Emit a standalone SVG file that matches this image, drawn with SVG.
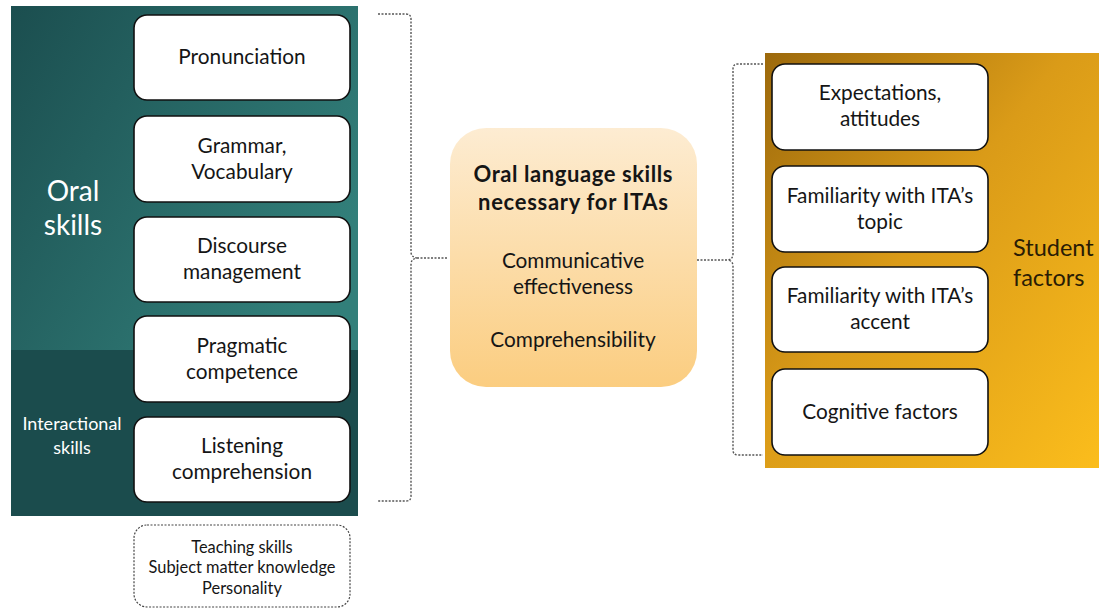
<svg xmlns="http://www.w3.org/2000/svg" width="1099" height="609" viewBox="0 0 1099 609">
<defs>
<linearGradient id="gTeal" x1="0" y1="0" x2="1" y2="0.6">
<stop offset="0" stop-color="#1b4e4f"/>
<stop offset="1" stop-color="#327f7a"/>
</linearGradient>
<linearGradient id="gGold" x1="0" y1="0" x2="1" y2="1">
<stop offset="0" stop-color="#9c690c"/>
<stop offset="0.45" stop-color="#da9b18"/>
<stop offset="1" stop-color="#fbbd1c"/>
</linearGradient>
<linearGradient id="gCenter" x1="0" y1="0" x2="0" y2="1">
<stop offset="0" stop-color="#fdecd2"/>
<stop offset="1" stop-color="#fbcd80"/>
</linearGradient>
<style>
.box{fill:#ffffff;stroke:#111;stroke-width:1.6}
.t{font-family:Lato,"Liberation Sans",sans-serif;font-size:20.8px;fill:#151515;text-anchor:middle}
.s{font-size:16.4px}
.b{font-size:22px;font-weight:bold}
.w{font-family:Lato,"Liberation Sans",sans-serif;fill:#ffffff;text-anchor:middle}
.dash{fill:none;stroke:#555;stroke-width:1.4;stroke-dasharray:2 1.5}
</style>
</defs>
<rect width="1099" height="609" fill="#ffffff"/>

<g id="oral-panel">
<rect x="11" y="6" width="347" height="344" fill="url(#gTeal)"/>
<rect x="11" y="350" width="347" height="166" fill="#1b4c4d"/>
<text class="w" x="73" y="201" font-size="28">Oral</text>
<text class="w" x="73" y="235" font-size="28">skills</text>
<text class="w" x="72" y="430" font-size="18">Interactional</text>
<text class="w" x="72" y="454" font-size="18">skills</text>
</g>

<g id="pronunciation"><rect class="box" x="134" y="15" width="216" height="85" rx="13"/><text class="t" x="242" y="64">Pronunciation</text></g>
<g id="grammar"><rect class="box" x="134" y="116" width="216" height="86" rx="13"/><text class="t" x="242" y="153">Grammar,</text><text class="t" x="242" y="179">Vocabulary</text></g>
<g id="discourse"><rect class="box" x="134" y="217" width="216" height="85" rx="13"/><text class="t" x="242" y="253">Discourse</text><text class="t" x="242" y="279">management</text></g>
<g id="pragmatic"><rect class="box" x="134" y="316" width="216" height="86" rx="13"/><text class="t" x="242" y="353">Pragmatic</text><text class="t" x="242" y="379">competence</text></g>
<g id="listening"><rect class="box" x="134" y="417" width="216" height="85" rx="13"/><text class="t" x="242" y="453">Listening</text><text class="t" x="242" y="479">comprehension</text></g>

<g id="other-factors"><rect x="134" y="525" width="216" height="82" rx="13" fill="#ffffff" stroke="#444" stroke-width="1.2" stroke-dasharray="2 1.5"/>
<text class="t s" x="242" y="553">Teaching skills</text>
<text class="t s" x="242" y="573">Subject matter knowledge</text>
<text class="t s" x="242" y="594">Personality</text></g>

<g id="center">
<rect x="450" y="128" width="247" height="259" rx="36" fill="url(#gCenter)"/>
<text class="t b" x="573" y="182" textLength="199" lengthAdjust="spacing">Oral language skills</text>
<text class="t b" x="573" y="210" textLength="190" lengthAdjust="spacing">necessary for ITAs</text>
<text class="t" x="573" y="268">Communicative</text>
<text class="t" x="573" y="294">effectiveness</text>
<text class="t" x="573" y="347">Comprehensibility</text>
</g>

<g id="student-panel">
<rect x="765" y="53" width="334" height="415" fill="url(#gGold)"/>
<text x="1013" y="256" font-family="Lato,'Liberation Sans',sans-serif" font-size="23.5" fill="#2a1c05">Student</text>
<text x="1013" y="286" font-family="Lato,'Liberation Sans',sans-serif" font-size="23.5" fill="#2a1c05">factors</text>
</g>

<g id="expectations"><rect class="box" x="772" y="64" width="216" height="86" rx="13"/><text class="t" x="880" y="100">Expectations,</text><text class="t" x="880" y="126">attitudes</text></g>
<g id="topic"><rect class="box" x="772" y="166" width="216" height="86" rx="13"/><text class="t" x="880" y="203">Familiarity with ITA’s</text><text class="t" x="880" y="229">topic</text></g>
<g id="accent"><rect class="box" x="772" y="267" width="216" height="85" rx="13"/><text class="t" x="880" y="303">Familiarity with ITA’s</text><text class="t" x="880" y="329">accent</text></g>
<g id="cognitive"><rect class="box" x="772" y="369" width="216" height="86" rx="13"/><text class="t" x="880" y="419">Cognitive factors</text></g>

<g id="connectors">
<path class="dash" d="M378 14 H406 Q411 14 411 19 V252 Q411 257 417 258 Q411 259 411 264 V496 Q411 501 406 501 H378"/>
<path class="dash" d="M417 258 H448"/>
<path class="dash" d="M763 64 H738 Q733 64 733 69 V254 Q733 259 728 260 Q733 261 733 266 V450 Q733 455 738 455 H763"/>
<path class="dash" d="M697 260 H728"/>
</g>
</svg>
